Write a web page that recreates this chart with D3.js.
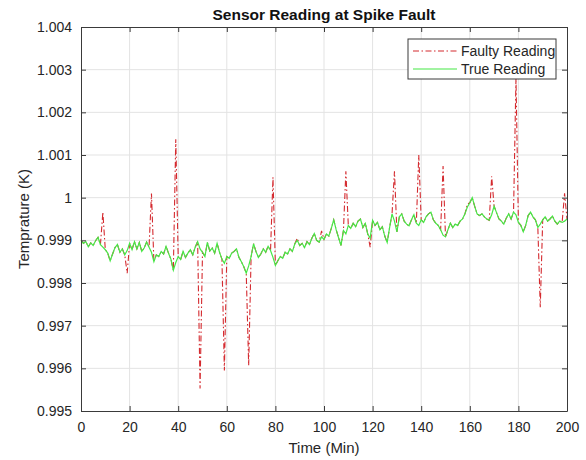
<!DOCTYPE html>
<html>
<head>
<meta charset="utf-8">
<script src="https://cdn.jsdelivr.net/npm/d3@7"></script>
<style>
	body { margin: 0; background: #ffffff; }
	svg { display: block; font-family: 'Liberation Sans', Arial, sans-serif; }
	.tick text { fill: #262626; font-size: 14px; }
</style>
</head>
<body>
<div id="chart"></div>
<script>
// Data
	var timeMin = d3.range(0, 201);

	var trueReading = [
		0.99900, 0.99893, 0.99897, 0.99885, 0.99894, 0.99888, 0.99899, 0.99907, 0.99890, 0.99884,
		0.99878, 0.99870, 0.99852, 0.99868, 0.99883, 0.99890, 0.99872, 0.99880, 0.99866, 0.99876,
		0.99893, 0.99878, 0.99897, 0.99880, 0.99895, 0.99874, 0.99882, 0.99896, 0.99884, 0.99872,
		0.99850, 0.99866, 0.99862, 0.99874, 0.99868, 0.99886, 0.99870, 0.99856, 0.99830, 0.99848,
		0.99862, 0.99855, 0.99874, 0.99860, 0.99870, 0.99878, 0.99866, 0.99884, 0.99897, 0.99880,
		0.99872, 0.99862, 0.99895, 0.99875, 0.99882, 0.99870, 0.99893, 0.99872, 0.99856, 0.99846,
		0.99862, 0.99858, 0.99870, 0.99874, 0.99880, 0.99860, 0.99850, 0.99838, 0.99823, 0.99840,
		0.99862, 0.99892, 0.99874, 0.99860, 0.99868, 0.99880, 0.99872, 0.99886, 0.99876, 0.99860,
		0.99841, 0.99852, 0.99862, 0.99858, 0.99872, 0.99868, 0.99880, 0.99874, 0.99892, 0.99900,
		0.99888, 0.99893, 0.99883, 0.99897, 0.99890, 0.99905, 0.99916, 0.99900, 0.99896, 0.99908,
		0.99902, 0.99915, 0.99910, 0.99928, 0.99948, 0.99925, 0.99906, 0.99888, 0.99923, 0.99915,
		0.99935, 0.99928, 0.99940, 0.99932, 0.99945, 0.99950, 0.99930, 0.99940, 0.99915, 0.99905,
		0.99947, 0.99935, 0.99942, 0.99925, 0.99932, 0.99910, 0.99895, 0.99930, 0.99962, 0.99945,
		0.99920, 0.99955, 0.99962, 0.99945, 0.99938, 0.99934, 0.99948, 0.99960, 0.99940, 0.99935,
		0.99948, 0.99942, 0.99955, 0.99962, 0.99966, 0.99948, 0.99940, 0.99935, 0.99925, 0.99912,
		0.99908, 0.99925, 0.99940, 0.99930, 0.99938, 0.99935, 0.99945, 0.99950, 0.99962, 0.99978,
		0.99988, 1.00000, 0.99980, 0.99962, 0.99958, 0.99962, 0.99955, 0.99950, 0.99947, 0.99960,
		0.99980, 0.99965, 0.99950, 0.99945, 0.99938, 0.99952, 0.99962, 0.99950, 0.99966, 0.99960,
		0.99942, 0.99935, 0.99920, 0.99935, 0.99958, 0.99966, 0.99955, 0.99948, 0.99930, 0.99938,
		0.99948, 0.99955, 0.99945, 0.99950, 0.99957, 0.99945, 0.99938, 0.99945, 0.99942, 0.99945,
		0.99950
	];

	// Spikes that the faulty sensor adds on top of the true reading
	var spikeTimes = [9, 19, 29, 39, 49, 59, 69, 79, 89, 99, 109, 119, 129, 139, 149, 159, 169, 179, 189, 199];
	var spikeValues = [0.99966, 0.99823, 1.00010, 1.00137, 0.99553, 0.99595, 0.99607, 1.00048, 0.99905, 0.99922,
		1.00062, 0.99884, 1.00062, 1.00100, 1.00074, 0.99985, 1.00050, 1.00280, 0.99743, 1.00010];

	var xTicks = [0, 20, 40, 60, 80, 100, 120, 140, 160, 180, 200];
	var yTicks = [0.995, 0.996, 0.997, 0.998, 0.999, 1, 1.001, 1.002, 1.003, 1.004];
	var yTickLabels = ['0.995', '0.996', '0.997', '0.998', '0.999', '1', '1.001', '1.002', '1.003', '1.004'];

	var faultyReading = trueReading.slice();
	spikeTimes.forEach((t, i) => { faultyReading[t] = spikeValues[i]; });

// Size and scales
	var width = 586, height = 460;
	var margin = { 'top': 27, 'right': 19, 'bottom': 49, 'left': 81 };
	var plotW = width - margin.left - margin.right;
	var plotH = height - margin.top - margin.bottom;

	var x = d3.scaleLinear().domain([0, 200]).range([0, plotW]);
	var y = d3.scaleLinear().domain([0.995, 1.004]).range([plotH, 0]);

	var svg = d3.select('#chart').append('svg')
		.attr('width', width)
		.attr('height', height);

	var g = svg.append('g')
		.attr('transform', 'translate(' + margin.left + ',' + margin.top + ')');

// Grid
	g.append('g')
		.selectAll('line')
		.data(xTicks.slice(1, -1))
		.join('line')
			.attr('x1', d => x(d)).attr('x2', d => x(d))
			.attr('y1', 0).attr('y2', plotH)
			.attr('stroke', '#e3e3e3');

	g.append('g')
		.selectAll('line')
		.data(yTicks.slice(1, -1))
		.join('line')
			.attr('y1', d => y(d)).attr('y2', d => y(d))
			.attr('x1', 0).attr('x2', plotW)
			.attr('stroke', '#e3e3e3');

// Lines
	var faultyColor = '#d42a2f';
	var trueColor = '#45e845';

	var line = d3.line()
		.x((d, i) => x(timeMin[i]))
		.y(d => y(d));

	g.append('path')
		.datum(faultyReading)
		.attr('fill', 'none')
		.attr('stroke', faultyColor)
		.attr('stroke-width', 1.1)
		.attr('stroke-dasharray', '6,2.5,1.5,2.5')
		.attr('d', line);

	g.append('path')
		.datum(trueReading)
		.attr('fill', 'none')
		.attr('stroke', trueColor)
		.attr('stroke-width', 1.2)
		.attr('d', line);

// Axes (ticks point inwards, box on all sides)
	var axisColor = '#3a3a3a';

	var xAxis = g.append('g')
		.attr('transform', 'translate(0,' + plotH + ')')
		.call(d3.axisBottom(x).tickValues(xTicks).tickSizeInner(-5).tickSizeOuter(0).tickPadding(11).tickFormat(d3.format('d')));

	var yAxis = g.append('g')
		.call(d3.axisLeft(y).tickValues(yTicks).tickSizeInner(-5).tickSizeOuter(0).tickPadding(9).tickFormat((d, i) => yTickLabels[i]));

	var xTop = g.append('g')
		.call(d3.axisTop(x).tickValues(xTicks).tickSizeInner(-5).tickSizeOuter(0).tickFormat(''));

	var yRight = g.append('g')
		.attr('transform', 'translate(' + plotW + ',0)')
		.call(d3.axisRight(y).tickValues(yTicks).tickSizeInner(-5).tickSizeOuter(0).tickFormat(''));

	[xAxis, yAxis, xTop, yRight].forEach(a => {
		a.selectAll('.domain').attr('stroke', axisColor);
		a.selectAll('.tick line').attr('stroke', axisColor);
	});
	[xAxis, yAxis].forEach(a => {
		a.selectAll('.tick text').attr('fill', '#262626').style('font-size', '14px');
	});

// Titles
	svg.append('text')
		.attr('x', margin.left + plotW / 2)
		.attr('y', 20)
		.attr('text-anchor', 'middle')
		.style('font-size', '15.5px')
		.style('font-weight', 'bold')
		.attr('fill', '#111')
		.text('Sensor Reading at Spike Fault');

	svg.append('text')
		.attr('x', margin.left + plotW / 2)
		.attr('y', 453)
		.attr('text-anchor', 'middle')
		.style('font-size', '15px')
		.attr('fill', '#262626')
		.text('Time (Min)');

	svg.append('text')
		.attr('transform', 'translate(29,' + (margin.top + plotH / 2) + ') rotate(-90)')
		.attr('text-anchor', 'middle')
		.style('font-size', '15px')
		.attr('fill', '#262626')
		.text('Temprature (K)');

// Legend
	var legendItems = [
		{ 'label': 'Faulty Reading', 'color': faultyColor, 'dash': '6,2.5,1.5,2.5' },
		{ 'label': 'True Reading', 'color': trueColor, 'dash': null }
	];

	var legend = svg.append('g').attr('transform', 'translate(408,39)');

	legend.append('rect')
		.attr('width', 148)
		.attr('height', 40)
		.attr('fill', '#fff')
		.attr('stroke', '#3a3a3a');

	var rows = legend.selectAll('g.item')
		.data(legendItems)
		.join('g')
			.attr('class', 'item')
			.attr('transform', (d, i) => 'translate(0,' + (12 + i * 18) + ')');

	rows.append('line')
		.attr('x1', 5).attr('x2', 49)
		.attr('stroke', d => d.color)
		.attr('stroke-width', 1.1)
		.attr('stroke-dasharray', d => d.dash);

	rows.append('text')
		.attr('x', 53)
		.attr('dy', '0.35em')
		.style('font-size', '14px')
		.attr('fill', '#262626')
		.text(d => d.label);
</script>
</body>
</html>
